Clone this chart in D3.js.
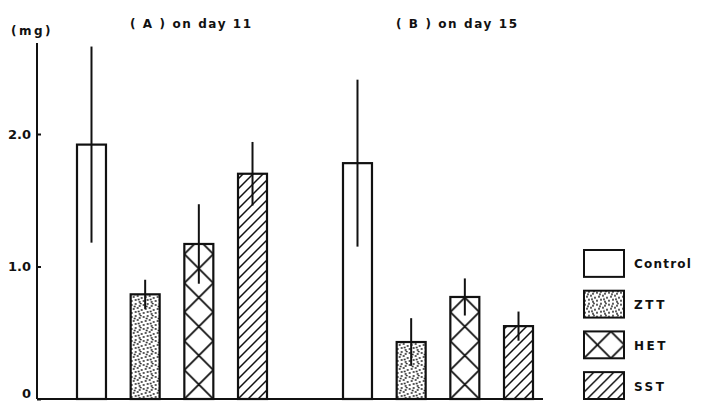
<!DOCTYPE html>
<html>
<head>
<meta charset="utf-8">
<script src="https://cdn.jsdelivr.net/npm/d3@7"></script>
<style>
  body { margin: 0; background: #fff; }
  text { font-family: "DejaVu Sans", sans-serif; font-weight: bold; fill: #111; }
</style>
</head>
<body>
<script>
// data
const groups = ["A", "B"];
const groupTitles = ["( A ) on day 11", "( B ) on day 15"];
const series = ["Control", "ZTT", "HET", "SST"];
const meanA = [1.92, 0.79, 1.17, 1.70];
const sdA = [0.74, 0.11, 0.30, 0.24];
const meanB = [1.78, 0.43, 0.77, 0.55];
const sdB = [0.63, 0.18, 0.14, 0.11];
const yTicks = [0, 1, 2];

const width = 704, height = 401;

const svg = d3.select('body').append('svg')
  .attr('width', width)
  .attr('height', height);

const defs = svg.append('defs');

// scales
const y = d3.scaleLinear().domain([0, 2]).range([399, 134]);
const xGroup = d3.scaleBand().domain(groups).range([77, 609]);
const xBar = d3.scaleBand().domain(series).range([0, 190]).paddingInner(0.46);

// fill pattern for one box, lined up with its own edges
function makePattern(id, type, x0, y0, w) {
  if (type === "Control") return "#fff";
  const p = defs.append('pattern')
    .attr('id', id)
    .attr('patternUnits', 'userSpaceOnUse');
  if (type === "ZTT") {
    // stipple
    p.attr('x', x0).attr('y', y0).attr('width', 12).attr('height', 12);
    p.append('rect').attr('width', 12).attr('height', 12).attr('fill', '#fff');
    const dots = [[1, 2], [5, 1], [9, 3], [3, 6], [7, 5], [11, 7], [1, 10], [5, 9], [9, 11], [4, 3.5], [10, 0.5], [8, 8.5]];
    dots.forEach(d => {
      p.append('circle').attr('cx', d[0]).attr('cy', d[1]).attr('r', 0.9).attr('fill', '#111');
    });
  } else if (type === "HET") {
    // cross hatch: one X per square tile -> diamonds as wide as the bar
    p.attr('x', x0).attr('y', y0).attr('width', w).attr('height', w);
    p.append('rect').attr('width', w).attr('height', w).attr('fill', '#fff');
    p.append('path')
      .attr('d', `M0,0L${w},${w}M${w},0L0,${w}`)
      .attr('stroke', '#111').attr('stroke-width', 1.8).attr('fill', 'none');
  } else if (type === "SST") {
    // diagonal hatch
    const s = 10;
    p.attr('x', x0).attr('y', y0).attr('width', s).attr('height', s);
    p.append('rect').attr('width', s).attr('height', s).attr('fill', '#fff');
    p.append('path')
      .attr('d', `M0,${s}L${s},0M${-s / 2},${s / 2}L${s / 2},${-s / 2}M${s / 2},${s * 1.5}L${s * 1.5},${s / 2}`)
      .attr('stroke', '#111').attr('stroke-width', 1.5);
  }
  return `url(#${id})`;
}

// axes
svg.append('line')
  .attr('x1', 37).attr('x2', 543)
  .attr('y1', y(0)).attr('y2', y(0))
  .attr('stroke', '#111').attr('stroke-width', 2);

const yAxis = svg.append('g')
  .attr('transform', 'translate(37,0)')
  .call(d3.axisLeft(y).tickValues(yTicks).tickSize(-4).tickPadding(6)
    .tickFormat(d => d === 0 ? "0" : d.toFixed(1)));
yAxis.select('.domain').remove();
yAxis.selectAll('.tick line').attr('stroke', '#111').attr('stroke-width', 2);
yAxis.selectAll('.tick text')
  .style('font-size', '13px')
  .style('font-family', '"DejaVu Sans", sans-serif')
  .style('font-weight', 'bold')
  .attr('fill', '#111');
// keep the "0" inside the frame
yAxis.selectAll('.tick text').filter(d => d === 0).attr('dy', '-0.1em');

svg.append('line')
  .attr('x1', 37).attr('x2', 37)
  .attr('y1', 43).attr('y2', y(0))
  .attr('stroke', '#111').attr('stroke-width', 2);

svg.append('text')
  .attr('x', 11).attr('y', 35)
  .style('font-size', '12px')
  .style('letter-spacing', '2.5px')
  .text('(mg)');

// group titles
groups.forEach((g, gi) => {
  svg.append('text')
    .attr('x', xGroup(g) + 53)
    .attr('y', 28)
    .style('font-size', '12px')
    .style('letter-spacing', '1.6px')
    .text(groupTitles[gi]);
});

// bars
const means = [meanA, meanB];
const sds = [sdA, sdB];

groups.forEach((g, gi) => {
  series.forEach((s, si) => {
    const x0 = xGroup(g) + xBar(s);
    const bw = xBar.bandwidth();
    const m = means[gi][si];
    const sd = sds[gi][si];
    const fill = makePattern(`p-${g}-${si}`, s, x0, y(0), bw);

    svg.append('rect')
      .attr('x', x0)
      .attr('y', y(m))
      .attr('width', bw)
      .attr('height', y(0) - y(m))
      .attr('fill', fill)
      .attr('stroke', '#111')
      .attr('stroke-width', 2.2);

    // error bar (mean +/- SD, no caps)
    svg.append('line')
      .attr('x1', x0 + bw / 2).attr('x2', x0 + bw / 2)
      .attr('y1', y(m + sd)).attr('y2', y(m - sd))
      .attr('stroke', '#111')
      .attr('stroke-width', 2);
  });
});

// legend
const legY = d3.scaleBand().domain(series).range([250, 399]).paddingInner(0.34);
series.forEach((s, si) => {
  const ly = legY(s);
  const fill = makePattern(`leg-${si}`, s, 584, ly, legY.bandwidth());
  svg.append('rect')
    .attr('x', 584).attr('y', ly)
    .attr('width', 40).attr('height', legY.bandwidth())
    .attr('fill', fill)
    .attr('stroke', '#111').attr('stroke-width', 2);
  svg.append('text')
    .attr('x', 634)
    .attr('y', ly + legY.bandwidth() / 2 + 5)
    .style('font-size', '12px')
    .style('letter-spacing', s === "Control" ? '1.2px' : '2.5px')
    .text(s);
});
</script>
</body>
</html>
